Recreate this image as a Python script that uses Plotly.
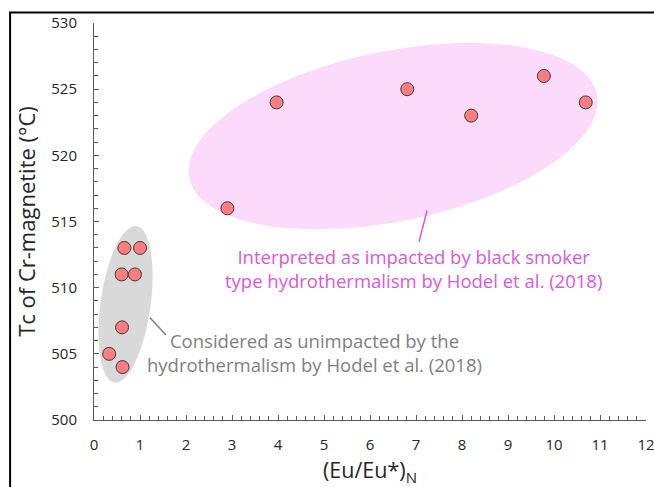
import numpy as np
import plotly.graph_objects as go

# ---- data ----
unimpacted_x = [0.33, 0.62, 0.61, 0.60, 0.89, 0.66, 1.00]
unimpacted_y = [505, 504, 507, 511, 511, 513, 513]
impacted_x = [2.9, 3.97, 6.81, 8.2, 9.78, 10.69]
impacted_y = [516, 524, 525, 523, 526, 524]
x_ticks = list(range(0, 13))
y_ticks = [500, 505, 510, 515, 520, 525, 530]

X_RANGE = [0, 12]
Y_RANGE = [500, 530]
W, H = 654, 487
M = dict(l=94, r=8, t=23, b=67, pad=0)
PX_X = (W - M["l"] - M["r"]) / (X_RANGE[1] - X_RANGE[0])
PX_Y = (H - M["t"] - M["b"]) / (Y_RANGE[1] - Y_RANGE[0])


def ellipse_path(cx, cy, a_px, b_px, ang_deg, n=120):
    t = np.linspace(0, 2 * np.pi, n)
    ang = np.radians(ang_deg)
    px = a_px * np.cos(t) * np.cos(ang) - b_px * np.sin(t) * np.sin(ang)
    py = a_px * np.cos(t) * np.sin(ang) + b_px * np.sin(t) * np.cos(ang)
    xs = cx + px / PX_X
    ys = cy + py / PX_Y
    d = "M " + " L ".join(f"{x:.4f},{y:.4f}" for x, y in zip(xs, ys)) + " Z"
    return d


fig = go.Figure()
marker = dict(size=13, color="#FF7C80", line=dict(color="#3A3A3A", width=1))
fig.add_trace(go.Scatter(x=unimpacted_x, y=unimpacted_y, mode="markers",
                         marker=marker, showlegend=False))
fig.add_trace(go.Scatter(x=impacted_x, y=impacted_y, mode="markers",
                         marker=marker, showlegend=False))

shapes = [
    dict(type="path", path=ellipse_path(6.5, 521.45, 208, 85, 11.6),
         fillcolor="#FCDAFC", line=dict(width=0), layer="below",
         xref="x", yref="y"),
    dict(type="path", path=ellipse_path(0.685, 508.74, 79, 25, 82),
         fillcolor="#D9D9D9", line=dict(width=0), layer="below",
         xref="x", yref="y"),
    dict(type="line", x0=1.217, y0=507.72, x1=1.565, y1=506.43,
         line=dict(color="#7F7F7F", width=1.5), xref="x", yref="y"),
    dict(type="line", x0=7.24, y0=515.81, x1=7.065, y1=513.46,
         line=dict(color="#DD55DD", width=1.5), xref="x", yref="y"),
    dict(type="path", path="M 1.05,1.0265 L -0.152,1.0265 L -0.152,-0.3",
         xref="paper", yref="paper", line=dict(color="black", width=2)),
]

annotations = [
    dict(x=6.935, y=511.42, xref="x", yref="y", showarrow=False,
         text="Interpreted as impacted by black smoker<br>type hydrothermalism by Hodel et al. (2018)",
         font=dict(family="Open Sans", size=18.5, color="#DD55DD"), align="center"),
    dict(x=4.80, y=505.07, xref="x", yref="y", showarrow=False,
         text="Considered as unimpacted by the<br>hydrothermalism by Hodel et al. (2018)",
         font=dict(family="Open Sans", size=18.5, color="#7F7F7F"), align="center"),
]

axis_common = dict(
    showgrid=False, zeroline=False, showline=True, linecolor="#595959", linewidth=1,
    ticks="inside", ticklen=5, tickcolor="#595959", automargin=False,
    ticklabeloverflow="allow",
    tickfont=dict(family="Open Sans", size=15, color="#262626"),
)

fig.update_layout(
    width=W, height=H, margin=M,
    plot_bgcolor="white", paper_bgcolor="white",
    shapes=shapes, annotations=annotations,
    xaxis=dict(range=X_RANGE, tickvals=x_ticks, ticklabelstandoff=11,
               minor=dict(ticks="inside", dtick=0.2, ticklen=4, tickcolor="#595959"),
               title=dict(text="(Eu/Eu*)<sub>N</sub>", standoff=13,
                          font=dict(family="Open Sans", size=21.5, color="#262626")),
               **axis_common),
    yaxis=dict(range=Y_RANGE, tickvals=y_ticks, ticklabelstandoff=13,
               minor=dict(ticks="inside", dtick=1, ticklen=4, tickcolor="#595959"),
               title=dict(text="Tc of Cr-magnetite (°C)", standoff=9,
                          font=dict(family="Open Sans", size=22, color="#262626")),
               **axis_common),
)

fig.write_html("out.html", config={"displayModeBar": False},
               post_script="document.body.style.margin='0';document.body.style.overflow='hidden';")
